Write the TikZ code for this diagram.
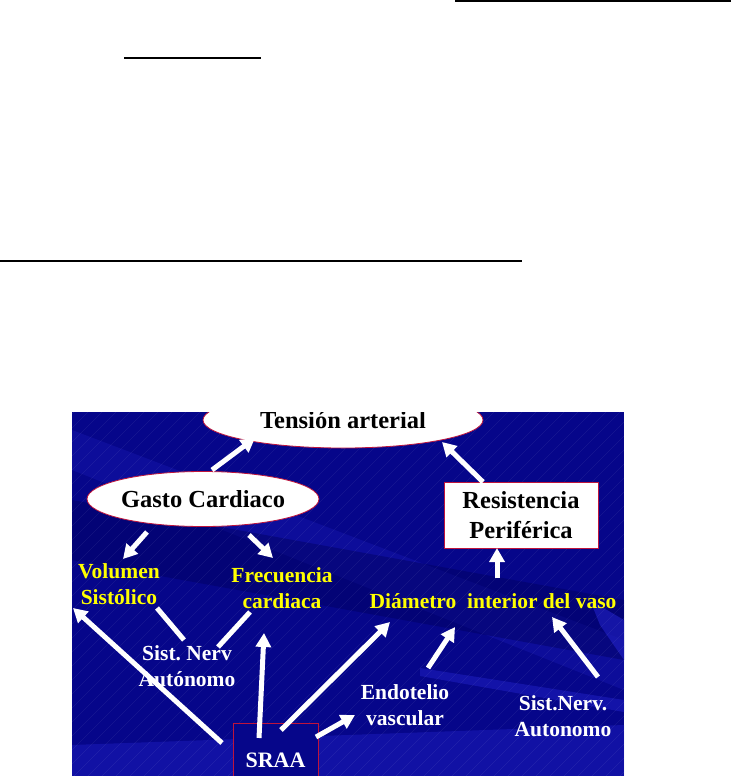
\documentclass[tikz,border=0pt]{standalone}
\usepackage{fontspec}
\setmainfont{Liberation Serif}
\usetikzlibrary{shapes.geometric,arrows.meta}

\definecolor{fondo}{RGB}{6,6,138}
\definecolor{franja}{RGB}{40,40,215}
\definecolor{sombra}{RGB}{0,0,95}
\definecolor{rojo}{RGB}{190,20,60}
\definecolor{amarillo}{RGB}{255,255,0}

\begin{document}
\begin{tikzpicture}[x=1pt,y=-1pt]
  % Estilos
  \tikzset{
    globo/.style={ellipse, draw=rojo, fill=white, line width=0.8pt, inner sep=0pt,
      font=\bfseries\fontsize{24.5}{30}\selectfont},
    caja/.style={rectangle, draw=rojo, fill=white, line width=0.8pt, align=center,
      minimum width=154pt, minimum height=66pt, inner sep=0pt,
      font=\bfseries\fontsize{24.5}{30}\selectfont},
    etiq/.style={align=center, inner sep=2pt, font=\bfseries\fontsize{21.5}{26.5}\selectfont},
    amar/.style={etiq, text=amarillo},
    blan/.style={etiq, text=white},
    flecha/.style={-{Triangle[length=14pt,width=15pt]}, white, line width=5pt},
    raya/.style={white, line width=5pt},
  }

  % Marco de la pagina
  \useasboundingbox (0,0) rectangle (745,776);

  % Rayas de texto
  \draw[line width=1.5pt] (455,1) -- (731,1);
  \draw[line width=1.5pt] (124,58) -- (261,58);
  \draw[line width=1.5pt] (0,261) -- (522,261);

  \begin{scope}
    \clip (72,412) rectangle (624,776);

    % Fondo azul
    \fill[fondo] (72,412) rectangle (624,776);
    \fill[franja, opacity=0.22] (72,430) -- (72,470) -- (624,690) -- (624,640) -- cycle;
    \fill[sombra, opacity=0.45] (72,500) -- (72,560) -- (624,660) -- (624,600) -- cycle;
    \fill[franja, opacity=0.35] (72,745) -- (624,725) -- (624,776) -- (72,776) -- cycle;
    \fill[franja, opacity=0.5] (590,600) -- (624,620) -- (624,660) -- (600,625) -- cycle;
    \fill[franja, opacity=0.4] (420,668) -- (624,700) -- (624,712) -- (420,676) -- cycle;
    \foreach \x in {-360,-346,...,624}
      \draw[white, opacity=0.07, line width=0.4pt] (\x,776) -- ++(364,-364);

    % Nodos
    \node[globo, minimum width=280pt, minimum height=56pt] (ta) at (343,420) {Tensión arterial};
    \node[globo, minimum width=197pt, minimum height=55pt] (gc) at (203,499) {Gasto Cardiaco};
    \node[caja] (rp) at (521,515) {Resistencia\\Periférica};

    \node[amar] (vs) at (119,584) {Volumen\\Sistólico};
    \node[amar] (fc) at (282,588) {Frecuencia\\cardiaca};
    \node[amar] (di) at (493,601) {Diámetro\ \ interior del vaso};

    \node[blan] (sna) at (187,666) {Sist.~Nerv\\Autónomo};
    \node[blan] (en) at (405,705) {Endotelio\\vascular};
    \node[blan] (snv) at (563,716) {Sist.Nerv.\\Autonomo};

    \node[draw=rojo, fill=fondo, line width=0.8pt, minimum width=85pt, minimum height=74pt,
      text=white, font=\bfseries\fontsize{22}{26}\selectfont] (sraa) at (275.5,760) {SRAA};

    % Flechas hacia arriba
    \draw[flecha] ([shift={(9,-29)}]gc.center) -- ([shift={(-88,18)}]ta.center);
    \draw[flecha] ([shift={(-38,-33)}]rp.center) -- ([shift={(99,22)}]ta.center);
    \draw[flecha] ([shift={(4,-23)}]di.center) -- ([shift={(-24,33)}]rp.center);

    % Gasto cardiaco
    \draw[flecha] ([shift={(-56,33)}]gc.center) -- ([shift={(4,-25)}]vs.center);
    \draw[flecha] ([shift={(46,36)}]gc.center) -- ([shift={(-9,-30)}]fc.center);

    % Sistema nervioso
    \draw[raya] ([shift={(38,24)}]vs.center) -- ([shift={(-3,-26)}]sna.center);
    \draw[raya] ([shift={(-32,24)}]fc.center) -- ([shift={(31,-19)}]sna.center);

    % SRAA
    \draw[flecha] ([shift={(-53.5,-17)}]sraa.center) -- ([shift={(-46,24)}]vs.center);
    \draw[flecha] ([shift={(-16.5,-22)}]sraa.center) -- ([shift={(-18,45)}]fc.center);
    \draw[flecha] ([shift={(5.5,-30)}]sraa.center) -- ([shift={(-103,21)}]di.center);
    \draw[flecha] ([shift={(40.5,-23)}]sraa.center) -- ([shift={(-50,10)}]en.center);

    % Diametro del vaso
    \draw[flecha] ([shift={(23,-37)}]en.center) -- ([shift={(-38,26)}]di.center);
    \draw[flecha] ([shift={(35,-39)}]snv.center) -- ([shift={(59,16)}]di.center);
  \end{scope}

\end{tikzpicture}
\end{document}
